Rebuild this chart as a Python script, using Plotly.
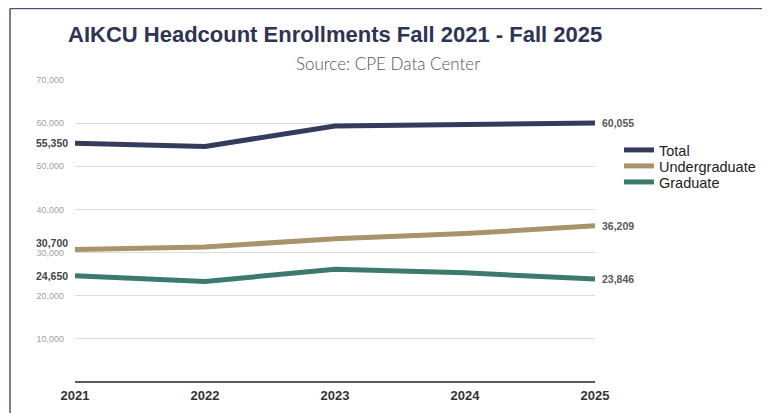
import plotly.graph_objects as go

years = [2021, 2022, 2023, 2024, 2025]
series_names = ["Total", "Undergraduate", "Graduate"]
total = [55350, 54600, 59350, 59700, 60055]
undergraduate = [30700, 31300, 33200, 34400, 36209]
graduate = [24650, 23300, 26150, 25300, 23846]
colors = ["#353b5c", "#a8936a", "#3c7a6d"]
y_ticks = [10000, 20000, 30000, 40000, 50000, 60000, 70000]
y_tick_text = ["10,000", "20,000", "30,000", "40,000", "50,000", "60,000", "70,000"]

values = [total, undergraduate, graduate]
left_label_shift = [0, 7, 0]
legend_ids = ["legend", "legend2", "legend3"]

fig = go.Figure()
for name, vals, col, lg in zip(series_names, values, colors, legend_ids):
    fig.add_trace(go.Scatter(x=years, y=vals, mode="lines", name=name, legend=lg,
                             showlegend=True,
                             line=dict(color=col, width=5), hoverinfo="x+y"))

# plot area (in figure px): left 67, top 72, width 520, height 302
PL, PT, PW, PH = 67, 72, 520, 302

annotations = []
for vals, ys in zip(values, left_label_shift):
    annotations.append(dict(x=years[0], y=vals[0], xref="x", yref="y",
                            text=f"<b>{vals[0]:,}</b>", showarrow=False,
                            xanchor="right", xshift=-5, yshift=ys,
                            font=dict(family="Liberation Sans, Arial", size=10.5, color="#454545")))
    annotations.append(dict(x=years[-1], y=vals[-1], xref="x", yref="y",
                            text=f"<b>{vals[-1]:,}</b>", showarrow=False,
                            xanchor="left", xshift=5,
                            font=dict(family="Liberation Sans, Arial", size=10.5, color="#585858")))

annotations.append(dict(x=(388 - 75) / PW, y=(382 - 63) / PH, xref="paper", yref="paper",
                        text="Source: CPE Data Center", showarrow=False,
                        xanchor="center", yanchor="middle",
                        font=dict(family="Lato Light, Lato, Open Sans", size=17, color="#555")))

legend_style = dict(xanchor="left", yanchor="top",
                    font=dict(family="Liberation Sans, Arial", size=14.5, color="#222"),
                    itemwidth=30, bgcolor="rgba(0,0,0,0)", visible=True)
legend_tops = [134, 150, 166]

layout_legends = {}
for lg, top in zip(legend_ids, legend_tops):
    layout_legends[lg] = dict(x=(619 - 75) / PW, y=(382 - top) / PH, **legend_style)

fig.update_layout(
    width=770, height=413,
    showlegend=True,
    margin=dict(l=PL, r=770 - PL - PW, t=PT, b=413 - PT - PH),
    paper_bgcolor="white", plot_bgcolor="white",
    title=dict(text="<b>AIKCU Headcount Enrollments Fall 2021 - Fall 2025</b>",
               x=(68 - 8) / 770, xanchor="left", y=1 - (34 - 8) / 413, yanchor="middle",
               font=dict(family="Liberation Sans, Arial", size=22, color="#2e3452")),
    xaxis=dict(range=[years[0], years[-1]], tickvals=years,
               ticktext=[f"<b>{y}</b>" for y in years],
               showgrid=False, zeroline=False, showline=False,
               ticklabelstandoff=4,
               tickfont=dict(family="Liberation Sans, Arial", size=13, color="#333"),
               fixedrange=True),
    yaxis=dict(range=[0, 70000], tickvals=y_ticks, ticktext=y_tick_text,
               showgrid=True, gridcolor="#dcdcdc", gridwidth=1,
               zeroline=True, zerolinecolor="#5a5a5a", zerolinewidth=2,
               showline=False, ticklabelstandoff=10,
               tickfont=dict(family="Liberation Sans, Arial", size=9, color="#a0a0a0"),
               fixedrange=True),
    annotations=annotations,
    shapes=[
        dict(type="line", xref="paper", yref="paper",
             x0=-65 / PW, x1=(770 - 75) / PW, y0=(382 - 8.5) / PH, y1=(382 - 8.5) / PH,
             line=dict(color="#4d5373", width=1.5)),
        dict(type="line", xref="paper", yref="paper",
             x0=-65 / PW, x1=-65 / PW, y0=(382 - 8.5) / PH, y1=-40 / PH,
             line=dict(color="#4d5373", width=1.5)),
    ],
    **layout_legends,
)

fig.write_html("out.html")
